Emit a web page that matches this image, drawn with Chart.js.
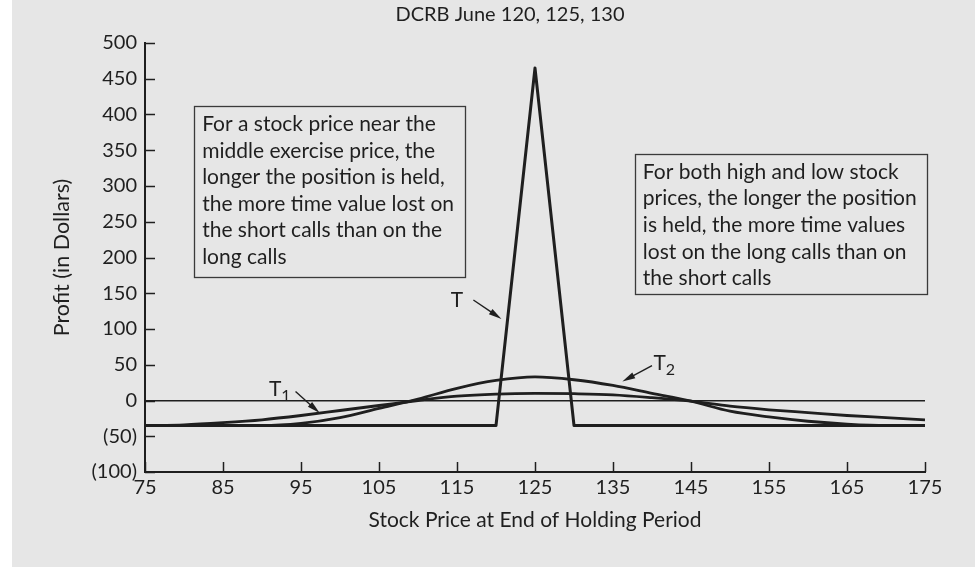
<!DOCTYPE html>
<html>
<head>
<meta charset="utf-8">
<title>DCRB June 120, 125, 130</title>
<script src="https://cdn.jsdelivr.net/npm/chart.js@4"></script>
<style>
  html, body { margin: 0; padding: 0; }
  body {
    width: 975px; height: 567px; overflow: hidden;
    background: linear-gradient(to right, #ffffff 12px, #e6e6e6 12px);
  }
  canvas { display: block; }
</style>
</head>
<body>
<canvas id="butterfly" width="975" height="567"></canvas>
<script>
// Butterfly spread profit at three holding periods
const stockPrices = [75, 80, 85, 90, 95, 100, 105, 110, 115, 120, 125,
                     130, 135, 140, 145, 150, 155, 160, 165, 170, 175];
const profitT1 = [-35, -34, -31, -27, -21, -14, -7, 0, 6, 9, 10,
                  9.5, 8, 4, -1, -8, -13, -17, -21, -24, -27];
const profitT2 = [-35, -35, -35, -35, -32, -24, -11, 2, 17, 28, 33,
                  29, 21, 10, -1, -15, -23, -29, -33, -35, -35];
// at expiration the payoff is piecewise linear
const expiryPrices = [75, 120, 125, 130, 175];
const profitT = [-35, -35, 465, -35, -35];

const yTicks = { min: -100, max: 500, step: 50 };
const xTicks = { min: 75, max: 175, step: 10 };

const INK = '#1f1f1f';
const FONT = 'Lato, "Open Sans", sans-serif';

const pts = (xs, ys) => xs.map((x, i) => ({ x: x, y: ys[i] }));

// title, inward tick marks, notes and arrows
const figureExtras = {
  id: 'figureExtras',
  afterDraw(chart) {
    const { ctx, chartArea: a, scales: { x, y } } = chart;
    ctx.save();

    ctx.fillStyle = INK;
    ctx.font = '20px ' + FONT;
    ctx.textAlign = 'center';
    ctx.textBaseline = 'middle';
    ctx.fillText('DCRB June 120, 125, 130', a.left + 365, 15);

    ctx.strokeStyle = INK;
    ctx.lineWidth = 1.5;
    y.ticks.forEach(t => {
      const py = Math.round(y.getPixelForValue(t.value)) + 0.5;
      ctx.beginPath(); ctx.moveTo(a.left, py); ctx.lineTo(a.left + 10, py); ctx.stroke();
    });
    x.ticks.forEach(t => {
      const px = Math.round(x.getPixelForValue(t.value)) + 0.5;
      ctx.beginPath(); ctx.moveTo(px, a.bottom); ctx.lineTo(px, a.bottom - 10); ctx.stroke();
    });

    // note boxes (corners in data units)
    const note = (x0, y0, x1, y1, lines) => {
      const l = x.getPixelForValue(x0), r = x.getPixelForValue(x1);
      const t = y.getPixelForValue(y0), b = y.getPixelForValue(y1);
      ctx.lineWidth = 1.3;
      ctx.strokeStyle = '#3a3a3a';
      ctx.strokeRect(Math.round(l) + 0.5, Math.round(t) + 0.5, Math.round(r - l), Math.round(b - t));
      ctx.fillStyle = INK;
      ctx.font = '21px ' + FONT;
      ctx.textAlign = 'left';
      ctx.textBaseline = 'middle';
      lines.forEach((s, i) => ctx.fillText(s, l + 8, t + 18 + i * 26.6));
    };
    note(81.3, 411.6, 116.1, 172.8, [
      'For a stock price near the',
      'middle exercise price, the',
      'longer the position is held,',
      'the more time value lost on',
      'the short calls than on the',
      'long calls'
    ]);
    note(137.8, 344.6, 175.2, 149.4, [
      'For both high and low stock',
      'prices, the longer the position',
      'is held, the more time values',
      'lost on the long calls than on',
      'the short calls'
    ]);

    // curve labels with pointer arrows
    const arrow = (xa, ya, xb, yb) => {
      const x1 = x.getPixelForValue(xa), y1 = y.getPixelForValue(ya);
      const x2 = x.getPixelForValue(xb), y2 = y.getPixelForValue(yb);
      const ang = Math.atan2(y2 - y1, x2 - x1);
      const len = 13, half = 3.2;
      ctx.strokeStyle = INK; ctx.fillStyle = INK; ctx.lineWidth = 1.4;
      ctx.beginPath(); ctx.moveTo(x1, y1);
      ctx.lineTo(x2 - Math.cos(ang) * len * 0.8, y2 - Math.sin(ang) * len * 0.8); ctx.stroke();
      ctx.beginPath();
      ctx.moveTo(x2, y2);
      ctx.lineTo(x2 - Math.cos(ang) * len - Math.sin(ang) * half, y2 - Math.sin(ang) * len + Math.cos(ang) * half);
      ctx.lineTo(x2 - Math.cos(ang) * len + Math.sin(ang) * half, y2 - Math.sin(ang) * len - Math.cos(ang) * half);
      ctx.closePath(); ctx.fill();
    };
    const label = (xv, yv, main, sub) => {
      const px = x.getPixelForValue(xv), py = y.getPixelForValue(yv);
      ctx.fillStyle = INK;
      ctx.textAlign = 'center';
      ctx.textBaseline = 'middle';
      ctx.font = '21px ' + FONT;
      ctx.fillText(main, px, py);
      if (sub) {
        ctx.font = '16px ' + FONT;
        ctx.textAlign = 'left';
        ctx.fillText(sub, px + 6, py + 7);
      }
    };
    label(115.0, 140.6, 'T');
    arrow(117.1, 140.6, 120.7, 114.1);
    label(141.0, 52.2, 'T', '2');
    arrow(140.0, 48.9, 136.2, 26.5);
    label(91.7, 15.9, 'T', '1');
    arrow(94.3, 12.6, 97.4, -17.6);
    ctx.restore();
  }
};

const curve = (data, extra) => Object.assign({
  data: data,
  borderColor: INK,
  borderWidth: 2.8,
  pointRadius: 0,
  fill: false
}, extra);

new Chart(document.getElementById('butterfly').getContext('2d'), {
  type: 'line',
  data: {
    datasets: [
      curve(pts(expiryPrices, profitT), { label: 'T', tension: 0, borderWidth: 3, borderJoinStyle: 'round' }),
      curve(pts(stockPrices, profitT1), { label: 'T1', cubicInterpolationMode: 'monotone' }),
      curve(pts(stockPrices, profitT2), { label: 'T2', cubicInterpolationMode: 'monotone' })
    ]
  },
  options: {
    responsive: false,
    animation: false,
    layout: { padding: { left: 0, right: 50, top: 43, bottom: 0 } },
    plugins: {
      legend: { display: false },
      tooltip: { enabled: false },
      title: { display: false }
    },
    scales: {
      x: {
        type: 'linear',
        min: xTicks.min, max: xTicks.max,
        afterFit: s => { s.height = 95; },
        ticks: { stepSize: xTicks.step, color: INK, padding: 4,
                 font: { family: FONT, size: 20 } },
        grid: { display: false, drawTicks: false },
        border: { color: INK, width: 2 },
        title: { display: true, text: 'Stock Price at End of Holding Period', color: INK,
                 font: { family: FONT, size: 21 }, padding: { bottom: 34 } }
      },
      y: {
        min: yTicks.min, max: yTicks.max,
        afterFit: s => { s.width = 145; },
        ticks: {
          stepSize: yTicks.step, color: INK, padding: 8,
          font: { family: FONT, size: 20 },
          callback: v => v < 0 ? '(' + (-v) + ')' : String(v)
        },
        grid: {
          drawTicks: false,
          color: c => c.tick && c.tick.value === 0 ? INK : 'transparent',
          lineWidth: 1.4
        },
        border: { color: INK, width: 2 },
        title: { display: true, text: 'Profit (in Dollars)', color: INK,
                 font: { family: FONT, size: 21.5 }, padding: { top: 49 } }
      }
    }
  },
  plugins: [figureExtras]
});
</script>
</body>
</html>
